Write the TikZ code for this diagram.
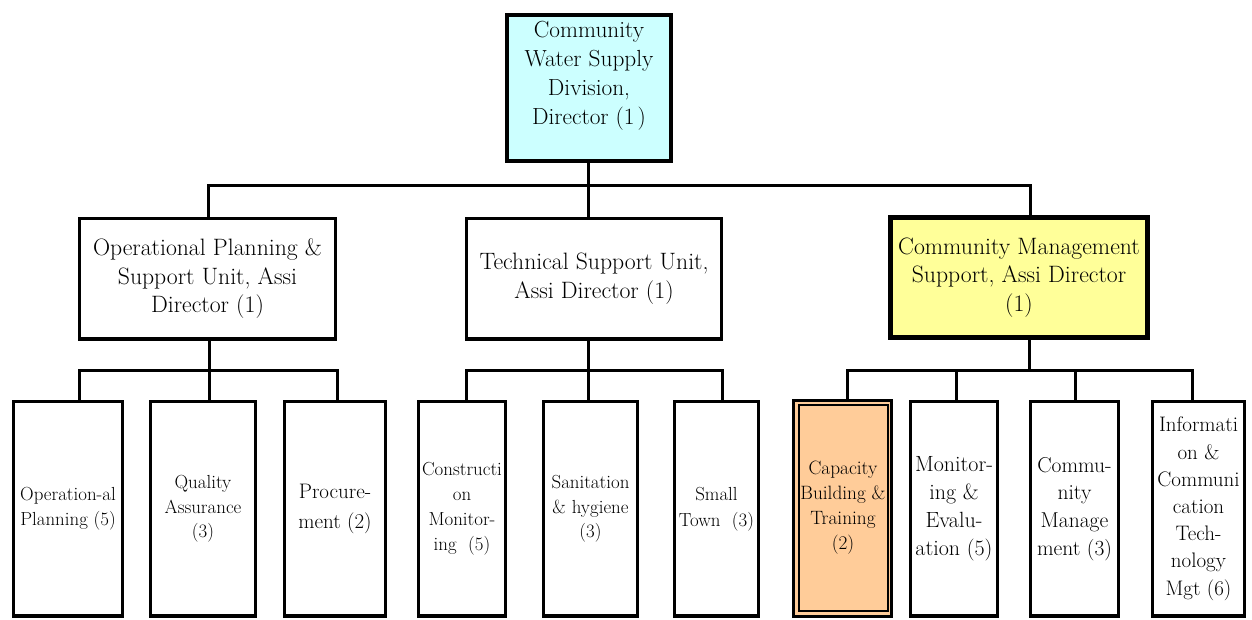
\documentclass[tikz,border=0pt]{standalone}
\definecolor{cyanfill}{HTML}{CCFFFF}
\definecolor{yellowfill}{HTML}{FFFF99}
\definecolor{orangefill}{HTML}{FFCC99}
\begin{document}
\begin{tikzpicture}[x=1pt,y=-1pt,
  box/.style={draw, line width=3.2pt, inner sep=0pt, align=center, fill=white},
  bigtxt/.style={font=\fontsize{23.7}{28.6}\selectfont},
  conn/.style={line width=3pt},
  bot/.style={box, minimum height=214.5pt},
]
\useasboundingbox (0,0) rectangle (1252,619);

% top
\node[box, fill=cyanfill, minimum width=164pt, minimum height=146pt] (dir) at (589,88) {};
\node[align=center, inner sep=0pt, font=\fontsize{23.3}{29}\selectfont] (dirtxt) at (589,76) {Community\\Water Supply\\Division,\\Director (1\kern3pt)};

% middle
\node[box, bigtxt, minimum width=256pt, minimum height=120.5pt] (opu) at (207.5,278.75) {Operational Planning \&\\Support Unit, Assi\\Director (1)};
\node[box, bigtxt, minimum width=255pt, minimum height=120.5pt] (tsu) at (594,278.75) {Technical Support Unit,\\Assi Director (1)};
\node[box, bigtxt, line width=5pt, fill=yellowfill, minimum width=257pt, minimum height=120pt] (cms) at (1019,277.5) {Community Management\\Support, Assi Director\\(1)};

% bottom
\node[bot, minimum width=109pt, font=\fontsize{18.9}{25}\selectfont] (b1) at (68,508.75) {Operation-al\\Planning (5)};
\node[bot, minimum width=105pt, font=\fontsize{18.9}{24.5}\selectfont] (b2) at (203,508.75) {Quality\\Assurance\\(3)};
\node[bot, minimum width=101pt, font=\fontsize{21}{30}\selectfont] (b3) at (335,508.75) {Procure-\\ment (2)};
\node[bot, minimum width=87pt, font=\fontsize{18.9}{25}\selectfont] (b4) at (462,508.75) {Constructi\\on\\Monitor-\\ing~~(5)};
\node[bot, minimum width=94pt, font=\fontsize{18.9}{24.5}\selectfont] (b5) at (590.5,508.75) {Sanitation\\\& hygiene\\(3)};
\node[bot, minimum width=84pt, font=\fontsize{18.9}{26}\selectfont] (b6) at (716.5,508.75) {Small\\Town~~(3)};
\node[box, fill=orangefill, line width=3pt, minimum width=98pt, minimum height=216pt] (b7) at (842.5,508) {};
\node[draw, line width=2pt, inner sep=0pt, align=center, minimum width=89pt, minimum height=206pt, font=\fontsize{19.3}{25}\selectfont] (b7in) at (843,508) {Capacity\\Building \&\\Training\\(2)};
\node[bot, minimum width=87pt, font=\fontsize{22}{27.7}\selectfont] (b8) at (954,508.75) {Monitor-\\ing \&\\Evalu-\\ation (5)};
\node[bot, minimum width=88pt, font=\fontsize{21.5}{27.7}\selectfont] (b9) at (1074.5,508.75) {Commu-\\nity\\Manage\\ment (3)};
\node[bot, minimum width=92pt, font=\fontsize{21}{27.2}\selectfont] (b10) at (1198.5,508.75) {Informati\\on \&\\Communi\\cation\\Tech-\\nology\\Mgt (6)};

% junction coordinates
\coordinate (t0) at (588,185);
\coordinate (t1) at (208.5,185);
\coordinate (t3) at (1030,185);
\coordinate (l0) at (209,370);
\coordinate (l1) at (79,370);
\coordinate (l2) at (209,370);
\coordinate (l3) at (337,370);
\coordinate (m0) at (588,370);
\coordinate (m1) at (466,370);
\coordinate (m2) at (588,370);
\coordinate (m3) at (722.5,370);
\coordinate (r0) at (1029.5,370);
\coordinate (r1) at (847,370);
\coordinate (r2) at (956,370);
\coordinate (r3) at (1075,370);
\coordinate (r4) at (1192,370);

% top level connectors
\draw[conn] (dir.south -| t0) -- (t0);
\draw[conn] (opu.north -| t1) -- (t1) -- (t3) -- (cms.north -| t3);
\draw[conn] (t0) -- (tsu.north -| t0);

% left group
\draw[conn] (opu.south -| l0) -- (l0);
\draw[conn] (b1.north -| l1) -- (l1) -- (l3) -- (b3.north -| l3);
\draw[conn] (l2) -- (b2.north -| l2);

% middle group
\draw[conn] (tsu.south -| m0) -- (m0);
\draw[conn] (b4.north -| m1) -- (m1) -- (m3) -- (b6.north -| m3);
\draw[conn] (m2) -- (b5.north -| m2);

% right group
\draw[conn] (cms.south -| r0) -- (r0);
\draw[conn] (b7.north -| r1) -- (r1) -- (r4) -- (b10.north -| r4);
\draw[conn] (r2) -- (b8.north -| r2);
\draw[conn] (r3) -- (b9.north -| r3);
\end{tikzpicture}
\end{document}
